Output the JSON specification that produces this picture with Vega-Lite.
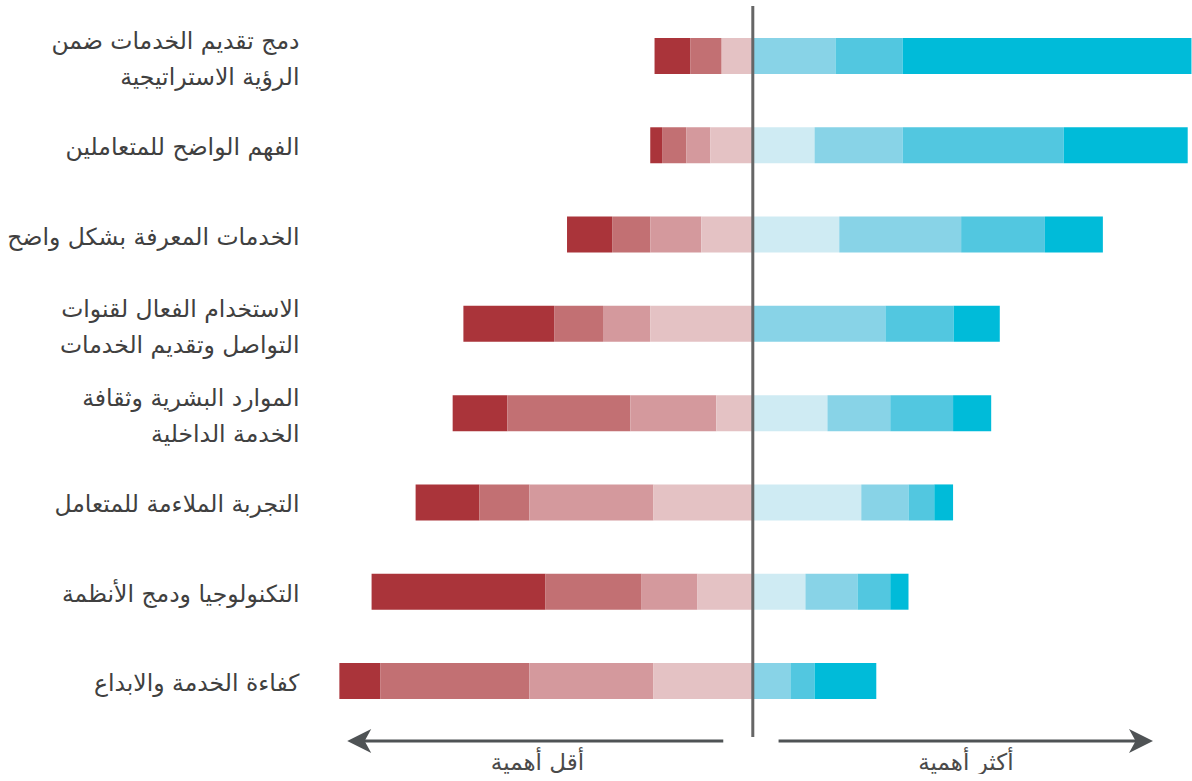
{
  "$schema": "https://vega.github.io/schema/vega-lite/v6.json",
  "padding": {"left": 6, "top": 4, "right": 0, "bottom": 0},
  "background": "white",
  "spacing": 0,
  "bounds": "flush",
  "config": {"view": {"stroke": null}, "font": "DejaVu Sans"},
  "datasets": {
    "bars": [
      {"item": "دمج تقديم الخدمات ضمن|الرؤية الاستراتيجية", "level": "n4", "rank": 4, "pct": -6.7},
      {"item": "دمج تقديم الخدمات ضمن|الرؤية الاستراتيجية", "level": "n3", "rank": 3, "pct": -5.8},
      {"item": "دمج تقديم الخدمات ضمن|الرؤية الاستراتيجية", "level": "n1", "rank": 1, "pct": -5.8},
      {"item": "دمج تقديم الخدمات ضمن|الرؤية الاستراتيجية", "level": "p2", "rank": 2, "pct": 15.4},
      {"item": "دمج تقديم الخدمات ضمن|الرؤية الاستراتيجية", "level": "p3", "rank": 3, "pct": 12.5},
      {"item": "دمج تقديم الخدمات ضمن|الرؤية الاستراتيجية", "level": "p4", "rank": 4, "pct": 53.8},
      {"item": "الفهم الواضح للمتعاملين", "level": "n4", "rank": 4, "pct": -2.2},
      {"item": "الفهم الواضح للمتعاملين", "level": "n3", "rank": 3, "pct": -4.5},
      {"item": "الفهم الواضح للمتعاملين", "level": "n2", "rank": 2, "pct": -4.5},
      {"item": "الفهم الواضح للمتعاملين", "level": "n1", "rank": 1, "pct": -7.9},
      {"item": "الفهم الواضح للمتعاملين", "level": "p1", "rank": 1, "pct": 11.5},
      {"item": "الفهم الواضح للمتعاملين", "level": "p2", "rank": 2, "pct": 16.4},
      {"item": "الفهم الواضح للمتعاملين", "level": "p3", "rank": 3, "pct": 30.0},
      {"item": "الفهم الواضح للمتعاملين", "level": "p4", "rank": 4, "pct": 23.1},
      {"item": "الخدمات المعرفة بشكل واضح", "level": "n4", "rank": 4, "pct": -8.4},
      {"item": "الخدمات المعرفة بشكل واضح", "level": "n3", "rank": 3, "pct": -7.1},
      {"item": "الخدمات المعرفة بشكل واضح", "level": "n2", "rank": 2, "pct": -9.5},
      {"item": "الخدمات المعرفة بشكل واضح", "level": "n1", "rank": 1, "pct": -9.6},
      {"item": "الخدمات المعرفة بشكل واضح", "level": "p1", "rank": 1, "pct": 16.1},
      {"item": "الخدمات المعرفة بشكل واضح", "level": "p2", "rank": 2, "pct": 22.7},
      {"item": "الخدمات المعرفة بشكل واضح", "level": "p3", "rank": 3, "pct": 15.6},
      {"item": "الخدمات المعرفة بشكل واضح", "level": "p4", "rank": 4, "pct": 10.8},
      {"item": "الاستخدام الفعال لقنوات|التواصل وتقديم الخدمات", "level": "n4", "rank": 4, "pct": -16.9},
      {"item": "الاستخدام الفعال لقنوات|التواصل وتقديم الخدمات", "level": "n3", "rank": 3, "pct": -9.1},
      {"item": "الاستخدام الفعال لقنوات|التواصل وتقديم الخدمات", "level": "n2", "rank": 2, "pct": -8.8},
      {"item": "الاستخدام الفعال لقنوات|التواصل وتقديم الخدمات", "level": "n1", "rank": 1, "pct": -19.1},
      {"item": "الاستخدام الفعال لقنوات|التواصل وتقديم الخدمات", "level": "p2", "rank": 2, "pct": 24.7},
      {"item": "الاستخدام الفعال لقنوات|التواصل وتقديم الخدمات", "level": "p3", "rank": 3, "pct": 12.7},
      {"item": "الاستخدام الفعال لقنوات|التواصل وتقديم الخدمات", "level": "p4", "rank": 4, "pct": 8.6},
      {"item": "الموارد البشرية وثقافة|الخدمة الداخلية", "level": "n4", "rank": 4, "pct": -10.2},
      {"item": "الموارد البشرية وثقافة|الخدمة الداخلية", "level": "n3", "rank": 3, "pct": -22.9},
      {"item": "الموارد البشرية وثقافة|الخدمة الداخلية", "level": "n2", "rank": 2, "pct": -16.0},
      {"item": "الموارد البشرية وثقافة|الخدمة الداخلية", "level": "n1", "rank": 1, "pct": -6.8},
      {"item": "الموارد البشرية وثقافة|الخدمة الداخلية", "level": "p1", "rank": 1, "pct": 13.9},
      {"item": "الموارد البشرية وثقافة|الخدمة الداخلية", "level": "p2", "rank": 2, "pct": 11.7},
      {"item": "الموارد البشرية وثقافة|الخدمة الداخلية", "level": "p3", "rank": 3, "pct": 11.7},
      {"item": "الموارد البشرية وثقافة|الخدمة الداخلية", "level": "p4", "rank": 4, "pct": 7.1},
      {"item": "التجربة الملاءمة للمتعامل", "level": "n4", "rank": 4, "pct": -11.9},
      {"item": "التجربة الملاءمة للمتعامل", "level": "n3", "rank": 3, "pct": -9.3},
      {"item": "التجربة الملاءمة للمتعامل", "level": "n2", "rank": 2, "pct": -23.1},
      {"item": "التجربة الملاءمة للمتعامل", "level": "n1", "rank": 1, "pct": -18.5},
      {"item": "التجربة الملاءمة للمتعامل", "level": "p1", "rank": 1, "pct": 20.2},
      {"item": "التجربة الملاءمة للمتعامل", "level": "p2", "rank": 2, "pct": 8.8},
      {"item": "التجربة الملاءمة للمتعامل", "level": "p3", "rank": 3, "pct": 4.8},
      {"item": "التجربة الملاءمة للمتعامل", "level": "p4", "rank": 4, "pct": 3.5},
      {"item": "التكنولوجيا ودمج الأنظمة", "level": "n4", "rank": 4, "pct": -32.4},
      {"item": "التكنولوجيا ودمج الأنظمة", "level": "n3", "rank": 3, "pct": -17.9},
      {"item": "التكنولوجيا ودمج الأنظمة", "level": "n2", "rank": 2, "pct": -10.4},
      {"item": "التكنولوجيا ودمج الأنظمة", "level": "n1", "rank": 1, "pct": -10.3},
      {"item": "التكنولوجيا ودمج الأنظمة", "level": "p1", "rank": 1, "pct": 9.8},
      {"item": "التكنولوجيا ودمج الأنظمة", "level": "p2", "rank": 2, "pct": 9.7},
      {"item": "التكنولوجيا ودمج الأنظمة", "level": "p3", "rank": 3, "pct": 6.1},
      {"item": "التكنولوجيا ودمج الأنظمة", "level": "p4", "rank": 4, "pct": 3.4},
      {"item": "كفاءة الخدمة والابداع", "level": "n4", "rank": 4, "pct": -7.6},
      {"item": "كفاءة الخدمة والابداع", "level": "n3", "rank": 3, "pct": -27.8},
      {"item": "كفاءة الخدمة والابداع", "level": "n2", "rank": 2, "pct": -23.1},
      {"item": "كفاءة الخدمة والابداع", "level": "n1", "rank": 1, "pct": -18.5},
      {"item": "كفاءة الخدمة والابداع", "level": "p2", "rank": 2, "pct": 7.0},
      {"item": "كفاءة الخدمة والابداع", "level": "p3", "rank": 3, "pct": 4.5},
      {"item": "كفاءة الخدمة والابداع", "level": "p4", "rank": 4, "pct": 11.5}
    ],
    "center": [{"value": 0}],
    "arrows": [
      {"dir": "left", "start": -73.3, "end": -5.5, "head": -73.3},
      {"dir": "right", "start": 4.8, "end": 72.3, "head": 72.3}
    ]
  },
  "vconcat": [
    {
      "width": 858,
      "height": 731,
      "layer": [
        {
          "data": {"name": "bars"},
          "mark": {"type": "bar"},
          "encoding": {
            "y": {
              "field": "item",
              "type": "nominal",
              "sort": [
                "دمج تقديم الخدمات ضمن|الرؤية الاستراتيجية",
                "الفهم الواضح للمتعاملين",
                "الخدمات المعرفة بشكل واضح",
                "الاستخدام الفعال لقنوات|التواصل وتقديم الخدمات",
                "الموارد البشرية وثقافة|الخدمة الداخلية",
                "التجربة الملاءمة للمتعامل",
                "التكنولوجيا ودمج الأنظمة",
                "كفاءة الخدمة والابداع"
              ],
              "scale": {"paddingInner": 0.597, "paddingOuter": 0.392, "align": 0.457},
              "axis": {
                "title": null,
                "domain": false,
                "ticks": false,
                "grid": false,
                "labelExpr": "split(datum.value, '|')",
                "labelFontSize": 23.5,
                "labelLineHeight": 36,
                "labelPadding": 35,
                "labelOffset": {"condition": {"test": "indexof(datum.value, '|') >= 0", "value": -14}, "value": 3},
                "labelColor": "#404040",
                "labelLimit": 400,
                "labelFont": "DejaVu Sans"
              }
            },
            "x": {
              "field": "pct",
              "type": "quantitative",
              "stack": "zero",
              "scale": {"domain": [-78, 81.8], "nice": false, "zero": false},
              "axis": null
            },
            "color": {
              "field": "level",
              "type": "nominal",
              "scale": {
                "domain": ["n4", "n3", "n2", "n1", "p1", "p2", "p3", "p4"],
                "range": ["#aa343a", "#c27073", "#d4999d", "#e4c2c4", "#cfebf3", "#88d3e7", "#52c7e0", "#00bbd9"]
              },
              "legend": null
            },
            "order": {"field": "rank", "type": "quantitative", "sort": "ascending"}
          }
        },
        {
          "data": {"name": "center"},
          "mark": {"type": "rule", "color": "#666666", "strokeWidth": 3},
          "encoding": {"x": {"field": "value", "type": "quantitative"}}
        }
      ]
    },
    {
      "width": 858,
      "height": 8,
      "data": {"name": "arrows"},
      "layer": [
        {
          "mark": {"type": "rule", "color": "#4f5355", "strokeWidth": 3},
          "encoding": {
            "x": {
              "field": "start",
              "type": "quantitative",
              "scale": {"domain": [-78, 81.8], "nice": false, "zero": false},
              "axis": {
                "orient": "bottom",
                "values": [-40.2, 39.6],
                "labelExpr": "datum.value < 0 ? 'أقل أهمية' : 'أكثر أهمية'",
                "domain": false,
                "ticks": false,
                "grid": false,
                "title": null,
                "labelFlush": false,
                "labelFontSize": 23,
                "labelColor": "#4a4a4a",
                "labelPadding": 6,
                "labelFont": "DejaVu Sans"
              }
            },
            "x2": {"field": "end"}
          }
        },
        {
          "mark": {"type": "point", "filled": true, "opacity": 1, "color": "#4f5355", "size": 576, "strokeWidth": 0},
          "encoding": {
            "x": {"field": "head", "type": "quantitative"},
            "shape": {
              "field": "dir",
              "type": "nominal",
              "scale": {"domain": ["left", "right"], "range": ["M -1 0 L 1 -1 L 0.45 0 L 1 1 Z", "M 1 0 L -1 -1 L -0.45 0 L -1 1 Z"]},
              "legend": null
            }
          }
        }
      ]
    }
  ]
}
